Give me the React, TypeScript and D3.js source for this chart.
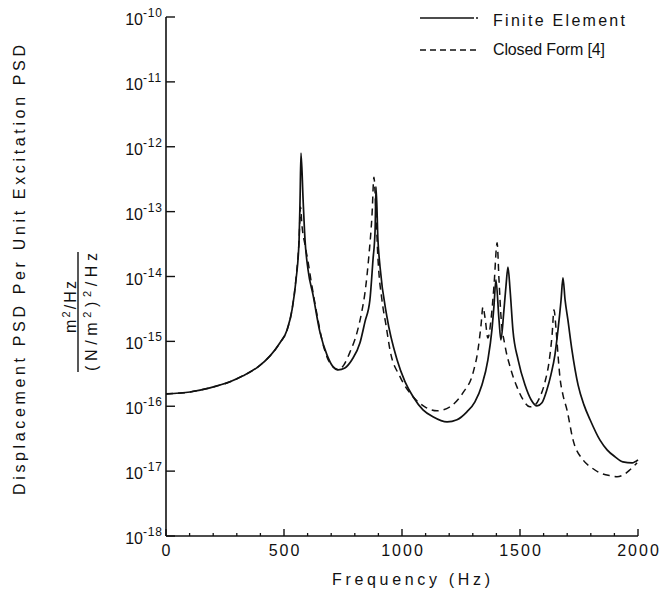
import React from 'react';
import * as d3 from 'd3';

// Finite element response (solid line)
const feFreq = [0, 102, 186, 271, 326, 390, 441, 483, 513, 534, 551, 564, 568, 572, 581, 589, 602, 623, 653, 682, 708, 729, 758, 788, 822, 843, 864, 877, 886, 890, 898, 907, 936, 979, 1013, 1047, 1089, 1131, 1191, 1233, 1275, 1309, 1339, 1364, 1381, 1390, 1398, 1411, 1419, 1432, 1441, 1449, 1458, 1470, 1492, 1521, 1547, 1572, 1593, 1614, 1631, 1648, 1661, 1674, 1682, 1691, 1703, 1720, 1746, 1771, 1797, 1839, 1869, 1903, 1936, 1975, 2000];
const feValue = [1.55e-16, 1.66e-16, 1.92e-16, 2.38e-16, 2.94e-16, 4.05e-16, 5.98e-16, 9.5e-16, 1.5e-15, 3.06e-15, 8.9e-15, 3.7e-14, 1.5e-13, 8.0e-13, 1.5e-13, 3.7e-14, 1.26e-14, 5.2e-15, 1.35e-15, 6.2e-16, 4.05e-16, 3.64e-16, 3.9e-16, 5.2e-16, 9.5e-16, 2.0e-15, 4.35e-15, 1.8e-14, 5.2e-14, 2.4e-13, 3.7e-14, 1.4e-14, 2.4e-15, 5.2e-16, 2.38e-16, 1.4e-16, 8.8e-17, 6.9e-17, 5.75e-17, 6.2e-17, 8.2e-17, 1.17e-16, 2.14e-16, 5.2e-16, 1.5e-15, 3.65e-15, 8.9e-15, 2.14e-15, 1.05e-15, 3.06e-15, 7.4e-15, 1.4e-14, 6.2e-15, 1.5e-15, 5.2e-16, 2.14e-16, 1.26e-16, 1.01e-16, 1.13e-16, 1.79e-16, 3.05e-16, 6.2e-16, 1.5e-15, 4.35e-15, 9.5e-15, 4.35e-15, 2.14e-15, 7.4e-16, 2.14e-16, 1.05e-16, 6.2e-17, 3.0e-17, 2.13e-17, 1.66e-17, 1.39e-17, 1.34e-17, 1.49e-17];

// Closed form response (dashed line)
const cfFreq = [0, 102, 186, 271, 326, 390, 441, 483, 513, 534, 551, 564, 570, 576, 589, 602, 614, 627, 644, 661, 682, 708, 729, 754, 780, 809, 831, 843, 860, 873, 881, 890, 898, 915, 932, 949, 992, 1047, 1097, 1148, 1203, 1258, 1301, 1322, 1335, 1343, 1352, 1364, 1377, 1390, 1403, 1411, 1419, 1436, 1458, 1487, 1513, 1542, 1564, 1585, 1606, 1623, 1636, 1644, 1653, 1661, 1669, 1682, 1699, 1725, 1767, 1805, 1839, 1881, 1911, 1945, 1966, 1996];
const cfValue = [1.55e-16, 1.66e-16, 1.92e-16, 2.38e-16, 2.94e-16, 4.05e-16, 5.98e-16, 9.5e-16, 1.5e-15, 3.06e-15, 9.5e-15, 3.7e-14, 1.18e-13, 6.2e-14, 3.07e-14, 1.68e-14, 8.9e-15, 4.7e-15, 2.14e-15, 1.05e-15, 5.77e-16, 4.05e-16, 3.64e-16, 4.35e-16, 6.9e-16, 1.35e-15, 3.06e-15, 5.6e-15, 2.15e-14, 8.9e-14, 3.4e-13, 8.9e-14, 1.94e-14, 4.35e-15, 1.8e-15, 7.4e-16, 2.84e-16, 1.4e-16, 9.8e-17, 8.5e-17, 9.8e-17, 1.61e-16, 3.27e-16, 7.4e-16, 1.8e-15, 3.4e-15, 2.3e-15, 1.13e-15, 2.14e-15, 7.4e-15, 3.3e-14, 8.9e-15, 2.56e-15, 8.8e-16, 4.05e-16, 1.99e-16, 1.26e-16, 9.8e-17, 1.05e-16, 1.4e-16, 2.38e-16, 4.8e-16, 1.26e-15, 3.06e-15, 1.5e-15, 6.2e-16, 2.84e-16, 1.5e-16, 8.8e-17, 3.0e-17, 1.49e-17, 1.12e-17, 9.4e-18, 8.5e-18, 8.2e-18, 9.1e-18, 1.05e-17, 1.34e-17];

const xTicks = [0, 500, 1000, 1500, 2000];
const xMinorTicks = d3.range(100, 2000, 100).filter(d => d % 500 !== 0);
const yExponents = [-10, -11, -12, -13, -14, -15, -16, -17, -18];

const FONT = '"Liberation Sans", Arial, Helvetica, sans-serif';
const INK = '#111';

export default function App() {
  const width = 665;
  const height = 595;

  const x = d3.scaleLinear().domain([0, 2000]).range([166, 638]);
  const y = d3.scaleLog().domain([1e-18, 1e-10]).range([536, 17]);

  // build a path from paired frequency / value arrays
  const makePath = (freqs: number[], vals: number[]) =>
    d3.line<[number, number]>()
      .x(d => x(d[0]))
      .y(d => y(d[1]))
      .curve(d3.curveMonotoneX)(freqs.map((f, i) => [f, vals[i]] as [number, number])) || '';

  const fePath = makePath(feFreq, feValue);
  const cfPath = makePath(cfFreq, cfValue);

  const [x0, x1] = x.range();
  const [yBottom, yTop] = y.range();

  return (
    <svg
      width={width}
      height={height}
      style={{ position: 'absolute', left: 0, top: 0, background: '#fff' }}
      fontFamily={FONT}
    >
      <rect x={0} y={0} width={width} height={height} fill="#fff" />

      {/* axes */}
      <line x1={x0} x2={x0} y1={yTop} y2={yBottom} stroke={INK} strokeWidth={1.6} />
      <line x1={x0} x2={x1} y1={yBottom} y2={yBottom} stroke={INK} strokeWidth={1.6} />

      {/* y ticks and labels */}
      {yExponents.map(e => {
        const ty = y(Math.pow(10, e));
        return (
          <g key={e}>
            <line x1={x0} x2={x0 + 9} y1={ty} y2={ty} stroke={INK} strokeWidth={1.4} />
            <text x={143} y={ty + 8} fontSize={16} textAnchor="end" fill={INK}>10</text>
            <text x={143} y={ty} fontSize={12} letterSpacing={0.8} fill={INK}>{`-${Math.abs(e)}`}</text>
          </g>
        );
      })}

      {/* x ticks and labels */}
      {xMinorTicks.map(t => (
        <line key={t} x1={x(t)} x2={x(t)} y1={yBottom} y2={yBottom - 3} stroke={INK} strokeWidth={1.3} />
      ))}
      {xTicks.map(t => (
        <g key={t}>
          <line x1={x(t)} x2={x(t)} y1={yBottom} y2={yBottom - 7} stroke={INK} strokeWidth={1.4} />
          <text x={x(t) + 1} y={556} fontSize={16} letterSpacing={2} textAnchor="middle" fill={INK}>{t}</text>
        </g>
      ))}

      {/* x axis title */}
      <text x={332} y={585} fontSize={16} textLength={158} lengthAdjust="spacing" fill={INK}>Frequency (Hz)</text>

      {/* y axis title */}
      <text transform="translate(25,495) rotate(-90)" fontSize={16} textLength={450} lengthAdjust="spacing" fill={INK}>
        Displacement PSD Per Unit Excitation PSD
      </text>
      <text transform="translate(76,307) rotate(-90)" fontSize={16} textAnchor="middle" textLength={52} lengthAdjust="spacing" fill={INK}>
        m<tspan dy={-6} fontSize={11}>2</tspan><tspan dy={6}>/Hz</tspan>
      </text>
      <line x1={78} x2={78} y1={252} y2={372} stroke={INK} strokeWidth={1.4} />
      <text transform="translate(97,312) rotate(-90)" fontSize={16} textAnchor="middle" textLength={118} lengthAdjust="spacing" fill={INK}>
        (N/m<tspan dy={-6} fontSize={11}>2</tspan><tspan dy={6}>)</tspan><tspan dy={-6} fontSize={11}>2</tspan><tspan dy={6}>/Hz</tspan>
      </text>

      {/* curves */}
      <path d={cfPath} fill="none" stroke={INK} strokeWidth={1.5} strokeDasharray="7,5" />
      <path d={fePath} fill="none" stroke={INK} strokeWidth={1.7} />

      {/* legend */}
      <line x1={420} x2={472} y1={18} y2={18} stroke={INK} strokeWidth={1.4} />
      <line x1={472} x2={478} y1={18} y2={18} stroke={INK} strokeWidth={1.4} strokeDasharray="2,2" />
      <text x={493} y={26} fontSize={16} textLength={132} lengthAdjust="spacing" fill={INK}>Finite Element</text>
      <line x1={420} x2={478} y1={50} y2={50} stroke={INK} strokeWidth={1.4} strokeDasharray="6,4" />
      <text x={493} y={55} fontSize={16} textLength={112} lengthAdjust="spacing" fill={INK}>Closed Form [4]</text>
    </svg>
  );
}
